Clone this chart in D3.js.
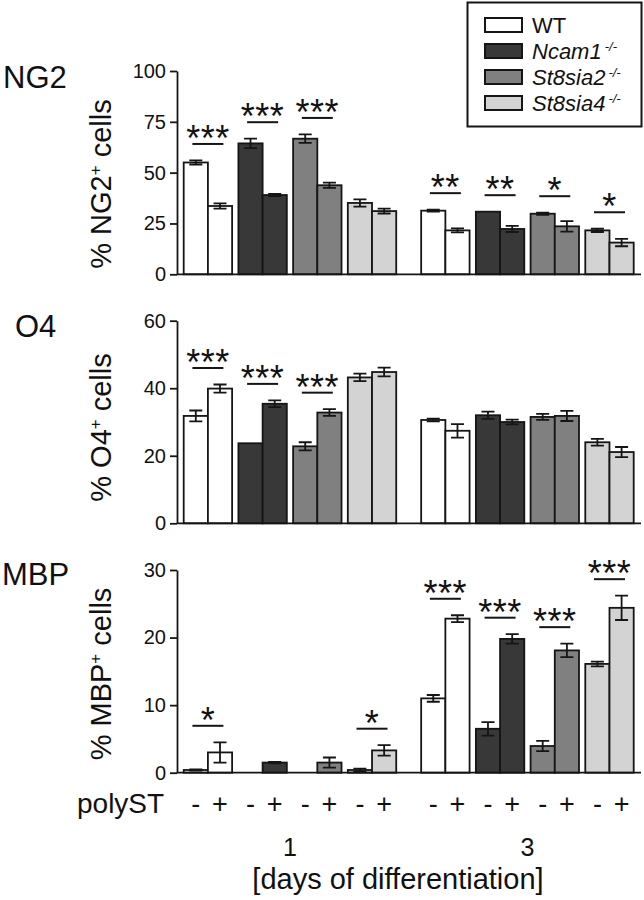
<!DOCTYPE html>
<html><head><meta charset="utf-8">
<script src="https://cdn.jsdelivr.net/npm/d3@7"></script>
<style>body{margin:0;background:#fff}svg{display:block}text{font-family:"Liberation Sans",Arial,sans-serif;fill:#111}</style>
</head><body><svg id="c" width="644" height="900"></svg>
<script>
// ---- data ----
const days = ["1", "3"];
const genotypes = ["WT", "Ncam1", "St8sia2", "St8sia4"];
const polyST = ["-", "+"];
const genoColors = ["#ffffff", "#383838", "#808080", "#d3d3d3"];

// values per day, ordered genotype x polyST (-,+)
const ng2Mean = [[55.0, 33.6, 64.4, 39.0, 66.7, 43.8, 35.1, 31.1], [31.3, 21.6, 30.8, 22.3, 29.8, 23.6, 21.6, 15.6]];
const ng2Err  = [[1.0, 1.3, 2.3, 0.5, 2.1, 1.3, 1.8, 1.2], [0.5, 1.0, 0.0, 1.5, 0.5, 2.6, 0.8, 1.8]];
const ng2Sig  = [["***", "***", "***", ""], ["**", "**", "*", "*"]];
const ng2Ticks = [0, 25, 50, 75, 100];

const o4Mean = [[31.8, 39.9, 23.7, 35.4, 22.8, 32.8, 43.2, 44.8], [30.6, 27.4, 32.0, 30.0, 31.5, 31.8, 24.0, 21.1]];
const o4Err  = [[1.6, 1.2, 0.0, 1.0, 1.2, 1.0, 1.1, 1.3], [0.4, 2.0, 1.1, 0.7, 0.9, 1.5, 1.0, 1.5]];
const o4Sig  = [["***", "***", "***", ""], ["", "", "", ""]];
const o4Ticks = [0, 20, 40, 60];

const mbpMean = [[0.4, 3.0, 0.0, 1.5, 0.0, 1.5, 0.4, 3.3], [11.0, 22.8, 6.5, 19.8, 3.95, 18.1, 16.1, 24.4]];
const mbpErr  = [[0.1, 1.5, 0.0, 0.1, 0.0, 0.75, 0.2, 0.77], [0.5, 0.5, 1.0, 0.7, 0.75, 1.0, 0.35, 1.8]];
const mbpSig  = [["*", "", "", "*"], ["***", "***", "***", "***"]];
const mbpTicks = [0, 10, 20, 30];

const legendLabels = ["WT", "Ncam1", "St8sia2", "St8sia4"];
const legendSup = ["", "-/-", "-/-", "-/-"];

// ---- layout ----
const svg = d3.select("#c");
const axisX0 = 177, axisX1 = 641;
const xDay = d3.scaleBand().domain(days).range([183.7, 633.7]).paddingInner(0.105);
const xGeno = d3.scaleBand().domain(genotypes).range([0, xDay.bandwidth()]).paddingInner(0.115);
const xPoly = d3.scaleBand().domain(polyST).range([0, xGeno.bandwidth()]);
const color = d3.scaleOrdinal().domain(genotypes).range(genoColors);

const panels = [
  {title: "NG2", tx: 3, ty: 88, lab: "% NG2", mean: ng2Mean, err: ng2Err, sig: ng2Sig, ticks: ng2Ticks, range: [274.3, 71], labY: 184},
  {title: "O4", tx: 15, ty: 336.5, lab: "% O4", mean: o4Mean, err: o4Err, sig: o4Sig, ticks: o4Ticks, range: [523.3, 320.7], labY: 427.5},
  {title: "MBP", tx: 2, ty: 585, lab: "% MBP", mean: mbpMean, err: mbpErr, sig: mbpSig, ticks: mbpTicks, range: [772.7, 570], labY: 674}
];

const ink = "#151515";

panels.forEach(p => {
  const y = d3.scaleLinear().domain([p.ticks[0], p.ticks[p.ticks.length - 1]]).range(p.range);
  const g = svg.append("g");

  // bars
  const recs = [];
  days.forEach((d, di) => genotypes.forEach((ge, gi) => polyST.forEach((ps, pi) => {
    const k = gi * 2 + pi;
    recs.push({d, ge, ps, v: p.mean[di][k], e: p.err[di][k],
      x: xDay(d) + xGeno(ge) + xPoly(ps)});
  })));
  g.selectAll("rect.bar").data(recs.filter(r => r.v > 0)).join("rect")
    .attr("x", r => r.x).attr("width", xPoly.bandwidth())
    .attr("y", r => y(r.v)).attr("height", r => y(0) - y(r.v))
    .attr("fill", r => color(r.ge)).attr("stroke", ink).attr("stroke-width", 1.8);

  // error bars
  const eb = recs.filter(r => r.e > 0);
  const cx = r => r.x + xPoly.bandwidth() / 2;
  g.selectAll("path.err").data(eb).join("path")
    .attr("d", r => `M${cx(r)},${y(r.v - r.e)}V${y(r.v + r.e)}M${cx(r) - 6.5},${y(r.v - r.e)}h13M${cx(r) - 6.5},${y(r.v + r.e)}h13`)
    .attr("fill", "none").attr("stroke", ink).attr("stroke-width", 1.8);

  // significance
  const sigs = [];
  days.forEach((d, di) => genotypes.forEach((ge, gi) => {
    const s = p.sig[di][gi];
    if (!s) return;
    const top = d3.max([0, 1], pi => p.mean[di][gi * 2 + pi] + p.err[di][gi * 2 + pi]);
    sigs.push({s, cx: xDay(d) + xGeno(ge) + xGeno.bandwidth() / 2, yl: y(top) - 16.5});
  }));
  g.selectAll("line.sig").data(sigs).join("line")
    .attr("x1", s => s.cx - 15.5).attr("x2", s => s.cx + 15.5)
    .attr("y1", s => s.yl).attr("y2", s => s.yl)
    .attr("stroke", ink).attr("stroke-width", 2);
  g.selectAll("text.sig").data(sigs).join("text")
    .attr("x", s => s.cx).attr("y", s => s.yl + 7)
    .attr("text-anchor", "middle").attr("font-size", 36).attr("letter-spacing", 0.5).text(s => s.s);

  // axes
  const ax = g.append("g").attr("transform", `translate(${axisX0},0)`)
    .call(d3.axisLeft(y).tickValues(p.ticks).tickSize(7).tickPadding(4).tickSizeOuter(0));
  ax.select(".domain").attr("stroke", ink).attr("stroke-width", 1.8);
  ax.selectAll(".tick line").attr("stroke", ink).attr("stroke-width", 1.8);
  ax.selectAll(".tick text").attr("font-size", 20).attr("font-family", "Liberation Sans, Arial, sans-serif").attr("fill", "#111");
  g.append("line").attr("x1", axisX0).attr("x2", axisX1).attr("y1", y(0)).attr("y2", y(0))
    .attr("stroke", ink).attr("stroke-width", 1.8);

  // titles
  g.append("text").attr("x", p.tx).attr("y", p.ty).attr("font-size", 31).text(p.title);
  const lt = g.append("text").attr("transform", `translate(111,${p.labY}) rotate(-90)`)
    .attr("text-anchor", "middle").attr("font-size", 29);
  lt.append("tspan").text(p.lab);
  lt.append("tspan").attr("dy", -10).attr("font-size", 17).text("+");
  lt.append("tspan").attr("dy", 10).text(" cells");
});

// polyST row
const bottomRow = [];
days.forEach(d => genotypes.forEach(ge => polyST.forEach(ps => bottomRow.push({ps, x: xDay(d) + xGeno(ge) + xPoly(ps) + xPoly.bandwidth() / 2}))));
svg.append("text").attr("x", 77).attr("y", 813).attr("font-size", 28).text("polyST");
svg.selectAll("text.ps").data(bottomRow).join("text").attr("class", "ps")
  .attr("x", r => r.x).attr("y", 813).attr("text-anchor", "middle").attr("font-size", 27).text(r => r.ps);
svg.selectAll("text.day").data(days).join("text").attr("class", "day")
  .attr("x", d => xDay(d) + xDay.bandwidth() / 2).attr("y", 856).attr("text-anchor", "middle")
  .attr("font-size", 25).text(d => d);
svg.append("text").attr("x", 398).attr("y", 889).attr("text-anchor", "middle").attr("font-size", 29)
  .text("[days of differentiation]");

// legend
const lg = svg.append("g");
lg.append("rect").attr("x", 467.5).attr("y", 2.5).attr("width", 174).attr("height", 124)
  .attr("fill", "#fff").attr("stroke", ink).attr("stroke-width", 2);
const li = lg.selectAll("g.li").data(legendLabels).join("g").attr("class", "li")
  .attr("transform", (d, i) => `translate(485,${18 + i * 26})`);
li.append("rect").attr("width", 37).attr("height", 14)
  .attr("fill", (d, i) => genoColors[i]).attr("stroke", ink).attr("stroke-width", 2);
const lt2 = li.append("text").attr("x", 47).attr("y", 14.5).attr("font-size", 22)
  .attr("font-style", (d, i) => i ? "italic" : "normal");
lt2.append("tspan").text(d => d);
lt2.append("tspan").attr("dx", 3).attr("dy", -8).attr("font-size", 13).text((d, i) => legendSup[i]);
</script></body></html>
